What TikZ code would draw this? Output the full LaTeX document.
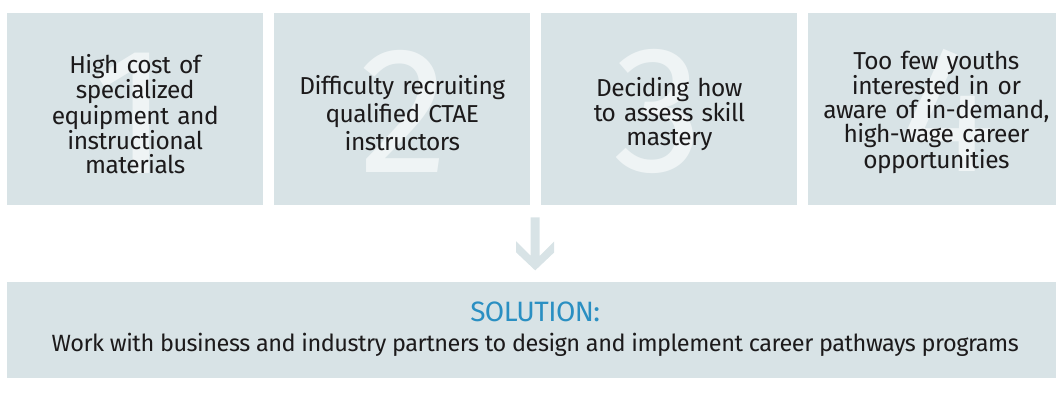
\documentclass[tikz,border=0pt]{standalone}
\usepackage{fontspec}
\setmainfont{Fira Sans}[LetterSpace=-2]
\usepackage{tikz}
\definecolor{boxgray}{HTML}{D8E3E6}
\definecolor{numwhite}{HTML}{EFF4F5}
\definecolor{textdark}{HTML}{1C1A1B}
\definecolor{solblue}{HTML}{2A8FC2}
\usetikzlibrary{positioning, calc}
\tikzset{problem/.style={fill=boxgray,minimum width=256pt,minimum height=192pt,inner sep=0pt}}
\tikzset{bignum/.style={text=numwhite,inner sep=0pt,font=\fontsize{180}{180}\selectfont}}
\tikzset{problemtext/.style={text=textdark,text width=245pt,align=center,font=\fontsize{24.5}{24}\selectfont}}
\tikzset{solution/.style={fill=boxgray,text=textdark,minimum width=1056pt,minimum height=96pt,inner sep=0pt,align=center,font=\fontsize{23.5}{30}\selectfont}}

\begin{document}
\begin{tikzpicture}

\useasboundingbox (0,0) rectangle (1056pt,-398pt);
\clip (0,0) rectangle (1056pt,-398pt);

% Problem boxes
\node[problem, anchor=north west] (p1) at (7pt,-13pt) {};
\node[problem, right=10.67pt of p1] (p2) {};
\node[problem, right=10.67pt of p2] (p3) {};
\node[problem, right=10.67pt of p3] (p4) {};

% Big numbers behind the text
\node[bignum, xshift=-5pt, yshift=-4pt] (n1) at (p1) {1};
\node[bignum, xshift=2pt, yshift=-2pt] (n2) at (p2) {2};
\node[bignum, xshift=-11pt, yshift=-2pt] (n3) at (p3) {3};
\node[bignum, xshift=12pt, yshift=-1pt] (n4) at (p4) {4};

% Problem texts
\node[problemtext, yshift=-5pt] (t1) at (p1) {High cost of\\specialized\\equipment and\\instructional\\materials};
\node[problemtext, yshift=-4pt, font=\fontsize{24.5}{28}\selectfont] (t2) at (p2) {Difficulty recruiting\\qualified CTAE\\instructors};
\node[problemtext, yshift=-5pt] (t3) at (p3) {Deciding how\\to assess skill\\mastery};
\node[problemtext, yshift=-3pt] (t4) at (p4) {Too few youths\\interested in or\\aware of in-demand,\\high-wage career\\opportunities};

% Solution box
\node[solution, below=76pt of p1.south west, anchor=north west] (sol) {{\color{solblue}\fontsize{28}{30}\selectfont SOLUTION:}\\Work with business and industry partners to design and implement career pathways programs};

% Arrow down to the solution
\coordinate[above=11pt of sol.north] (tip);
\path[fill=boxgray] (tip) -- ++(19pt,18pt) -- ++(0,11pt) -- ++(-14.5pt,-14.5pt) -- ++(0,38.5pt)
  -- ++(-9pt,0) -- ++(0,-38.5pt) -- ++(-14.5pt,14.5pt) -- ++(0,-11pt) -- cycle;

\end{tikzpicture}
\end{document}
